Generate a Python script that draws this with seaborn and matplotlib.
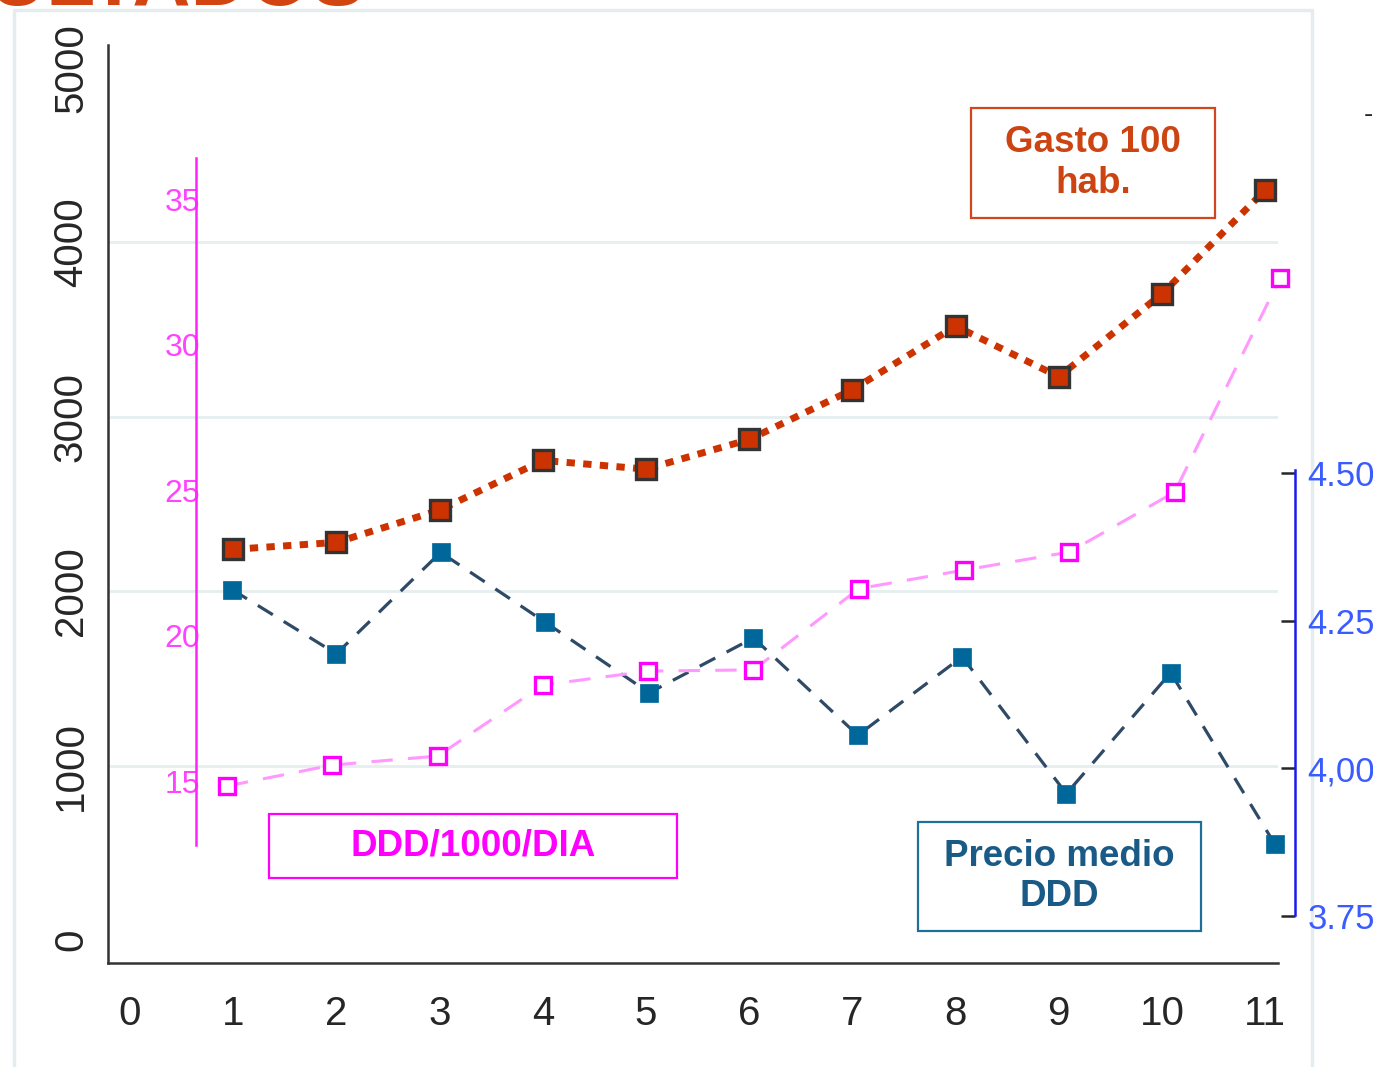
import matplotlib
matplotlib.use("Agg")
import matplotlib.pyplot as plt
import seaborn as sns
from matplotlib.patches import Rectangle
from matplotlib.lines import Line2D

# values
periodo = [1, 2, 3, 4, 5, 6, 7, 8, 9, 10, 11]
gasto_100hab = [2240, 2280, 2465, 2750, 2700, 2870, 3155, 3520, 3230, 3705, 4300]
ddd_1000_dia = [14.45, 15.17, 15.48, 17.92, 18.40, 18.44, 21.23, 21.87, 22.49, 24.55, 31.9]
precio_medio_ddd = [4.303, 4.194, 4.366, 4.248, 4.128, 4.221, 4.056, 4.189, 3.957, 4.162, 3.871]

x_ticks = list(range(0, 12))
gasto_ticks = [0, 1000, 2000, 3000, 4000, 5000]
ddd_ticks = [15, 20, 25, 30, 35]
precio_ticks = [3.75, 4.00, 4.25, 4.50]
precio_labels = ["3.75", "4,00", "4.25", "4.50"]

sns.set_style("white")
plt.rcParams['font.family'] = ['Liberation Sans', 'DejaVu Sans']

W, H = 1373, 1067
fig = plt.figure(figsize=(W / 100, H / 100), dpi=100)

# axes rectangle in pixels: left 108, right 1278, top 45, bottom 963
rect = [108 / W, (H - 963) / H, 1170 / W, 918 / H]

ax = fig.add_axes(rect, zorder=1)
ax_pr = fig.add_axes(rect, zorder=2)
ax_ddd = fig.add_axes(rect, zorder=3)
for a in (ax_pr, ax_ddd):
    a.patch.set_alpha(0)

# main axis: gasto por 100 habitantes
ax.set_xlim(-0.213, 11.124)
ax.set_ylim(-132, 5132)
for y in gasto_ticks[1:-1]:
    ax.axhline(y, color='#e6eeef', lw=2, zorder=0)
sns.lineplot(x=periodo, y=gasto_100hab, ax=ax, color='#cc3300',
             linestyle=(0, (1.2, 1.2)), linewidth=5, dash_capstyle='butt',
             marker='s', markersize=14.5, markerfacecolor='#cc3300',
             markeredgecolor='#333333', markeredgewidth=2.4, clip_on=False, zorder=5)
ax.set_xticks(x_ticks)
ax.set_xticklabels([str(v) for v in x_ticks], fontsize=29)
ax.set_yticks(gasto_ticks)
ax.set_yticklabels([str(v) for v in gasto_ticks], fontsize=29,
                   rotation=90, va='center')
ax.tick_params(axis='x', direction='out', length=13, width=1.5, color='#222222', pad=10)
ax.tick_params(axis='y', direction='out', length=12, width=1.2, color='#666666', pad=1)
for s in ('top', 'right'):
    ax.spines[s].set_visible(False)
for s in ('left', 'bottom'):
    ax.spines[s].set_color('#333333')
    ax.spines[s].set_linewidth(1.8)
ax.set_xlabel('')
ax.set_ylabel('')

# precio medio DDD (blue, right inner axis)
ax_pr.set_xlim(-0.189, 11.029)
ax_pr.set_ylim(3.670, 5.226)
sns.lineplot(x=periodo, y=precio_medio_ddd, ax=ax_pr, color='#2f4a66',
             linestyle=(0, (5.5, 4)), linewidth=2.3,
             marker='s', markersize=12.5, markerfacecolor='#00679a',
             markeredgecolor='#00679a', markeredgewidth=0.5, clip_on=False, zorder=4)
ax_pr.set_xticks([])
for s in ('top', 'left', 'bottom'):
    ax_pr.spines[s].set_visible(False)
ax_pr.spines['right'].set_position(('axes', 1.0145))
ax_pr.spines['right'].set_bounds(3.752, 4.505)
ax_pr.spines['right'].set_color('#1a1aee')
ax_pr.spines['right'].set_linewidth(1.8)
ax_pr.yaxis.tick_right()
ax_pr.set_yticks(precio_ticks)
ax_pr.set_yticklabels(precio_labels, fontsize=25, color='#3a5cff')
ax_pr.tick_params(axis='y', direction='in', length=10, width=1.8, pad=9)
for t, c in zip(ax_pr.yaxis.get_major_ticks(), ['#9090ff', '#8080ff', '#1a1aee', '#1a1aee']):
    t.tick2line.set_color(c)
for lab in ax_pr.get_yticklabels():
    lab.set_va('center_baseline')
ax_pr.set_xlabel('')
ax_pr.set_ylabel('')

# DDD/1000/dia (magenta, left inner axis)
ax_ddd.set_xlim(-0.130, 10.981)
ax_ddd.set_ylim(8.37, 39.91)
sns.lineplot(x=periodo, y=ddd_1000_dia, ax=ax_ddd, color='#ff99ff',
             linestyle=(0, (7, 5)), linewidth=2.2,
             marker='s', markersize=11, markerfacecolor='white',
             markeredgecolor='#ff00ff', markeredgewidth=2.4, clip_on=False, zorder=6)
ax_ddd.set_xticks([])
for s in ('top', 'right', 'bottom'):
    ax_ddd.spines[s].set_visible(False)
ax_ddd.spines['left'].set_position(('axes', 0.0752))
ax_ddd.spines['left'].set_bounds(12.42, 36.03)
ax_ddd.spines['left'].set_color('#ff22ff')
ax_ddd.spines['left'].set_linewidth(1.8)
ax_ddd.set_yticks(ddd_ticks)
ax_ddd.set_yticklabels([str(v) for v in ddd_ticks], fontsize=23, color='#ff44ff')
ax_ddd.tick_params(axis='y', direction='in', length=12, width=1.5, color='#ffaaff', pad=-3)
for lab in ax_ddd.get_yticklabels():
    lab.set_va('top')
ax_ddd.set_xlabel('')
ax_ddd.set_ylabel('')


def px_box(x0, y0, x1, y1, edge, text, tcolor):
    fig.patches.append(Rectangle((x0 / W, 1 - y1 / H), (x1 - x0) / W, (y1 - y0) / H,
                                 transform=fig.transFigure, fill=False,
                                 edgecolor=edge, linewidth=1.6, zorder=10))
    fig.text((x0 + x1) / 2 / W, 1 - (y0 + y1) / 2 / H, text, color=tcolor,
             fontsize=26.5, fontweight='bold', ha='center', va='center',
             linespacing=1.2, zorder=11)


px_box(971, 108, 1215, 218, '#d2461e', 'Gasto 100\nhab.', '#cc4412')
px_box(269, 814, 677, 878, '#ff00ff', 'DDD/1000/DIA', '#ff00ff')
px_box(918, 822, 1201, 931, '#1f6f96', 'Precio medio\nDDD', '#1a5a86')

# slide frame and cut-off heading
fig.lines.append(Line2D([14 / W, 14 / W, 1312 / W, 1312 / W], [0, 1 - 10 / H, 1 - 10 / H, 0],
                        transform=fig.transFigure, color='#e4ecee', lw=2.5, zorder=0))
fig.text(-12 / W, 1 - 5 / H, 'ULTADOS', color='#d24410', fontsize=58,
         fontweight='bold', ha='left', va='baseline')
fig.text(1368 / W, 1 - 115 / H, '-', color='#222222', fontsize=20, ha='center', va='center')

fig.savefig('out.png', dpi=100)
